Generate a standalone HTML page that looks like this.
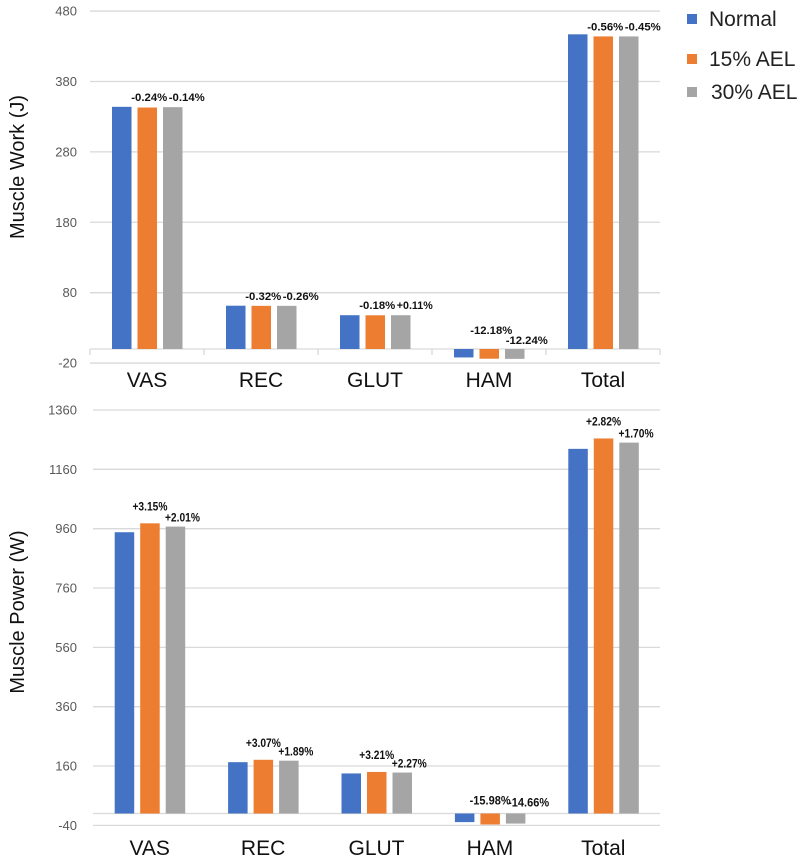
<!DOCTYPE html>
<html><head><meta charset="utf-8"><style>
html,body{margin:0;padding:0;background:#fff;}
svg{display:block;font-family:"Liberation Sans",sans-serif;}
</style></head><body>
<svg id="c" width="800" height="861" viewBox="0 0 800 861">
<g>
 <g><rect x="687" y="14" width="10" height="10" fill="#4472c4"/><text x="709" y="26" font-size="21" fill="#222">Normal</text></g>
 <g><rect x="687" y="54" width="10" height="10" fill="#ed7d31"/><text x="709" y="66" font-size="21" fill="#222">15% AEL</text></g>
 <g><rect x="687" y="87" width="10" height="10" fill="#a5a5a5"/><text x="711" y="99" font-size="21" fill="#222">30% AEL</text></g>
</g>
</svg>
<script>
const categories=["VAS","REC","GLUT","HAM","Total"];
const workNormal=[344,61.5,48,-12,447];
const work15=[343,61.3,47.9,-13.8,444];
const work30=[343.5,61.3,48,-14,444];
const workLabels15=["-0.24%","-0.32%","-0.18%","-12.18%","-0.56%"];
const workLabels30=["-0.14%","-0.26%","+0.11%","-12.24%","-0.45%"];
const workTicks=[-20,80,180,280,380,480];
const powerNormal=[948,173,135,-29,1229];
const power15=[978,181,140,-37,1264];
const power30=[967,178,138,-34,1250];
const powerLabels15=["+3.15%","+3.07%","+3.21%","-15.98%","+2.82%"];
const powerLabels30=["+2.01%","+1.89%","+2.27%","-14.66%","+1.70%"];
const powerTicks=[-40,160,360,560,760,960,1160,1360];
const colors=["#4472c4","#ed7d31","#a5a5a5"];
const NS="http://www.w3.org/2000/svg";
const svg=document.getElementById('c');
function mk(tag,attrs,parent){const e=document.createElementNS(NS,tag);for(const k in attrs)e.setAttribute(k,attrs[k]);(parent||svg).appendChild(e);return e;}

function drawChart(cfg){
  const g=mk('g',{});
  
  
  const y=v=>cfg.zeroY-v*cfg.scale;
  const catW=(cfg.x1-cfg.x0)/categories.length;
  cfg.ticks.forEach(t=>{
    const gl=mk('line',{x1:cfg.x0,x2:cfg.x1,y1:y(t),y2:y(t),stroke:"#d9d9d9","stroke-width":1.3},g);
    
    
    const tl=mk('text',{x:77,y:y(t)+4.5,"text-anchor":"end","font-size":13,fill:"#595959"},g);
    tl.textContent=t;
    
    
  });
  const ax=mk('line',{x1:cfg.x0,x2:cfg.x1,y1:cfg.zeroY,y2:cfg.zeroY,stroke:"#d9d9d9","stroke-width":1.3},g);
  
  
  if(cfg.tickMarks){for(let i=0;i<=categories.length;i++){
    const tm=mk('line',{x1:cfg.x0+i*catW,x2:cfg.x0+i*catW,y1:cfg.zeroY,y2:cfg.zeroY+6,stroke:"#d9d9d9","stroke-width":1.3},g);
    
    
  }}
  const series=[cfg.s0,cfg.s1,cfg.s2];
  categories.forEach((c,i)=>{
    const cx=cfg.x0+i*catW+catW/2;
    const bx=[cx-35,cx-9.5,cx+16];
    series.forEach((s,j)=>{
      const v=s[i];
      const r=mk('rect',{x:bx[j],y:Math.min(y(v),y(0)),width:19.5,height:Math.abs(y(v)-y(0)),fill:colors[j]},g);
      
      
    });
    let ly1,ly2,dx2=cfg.dx[1];
    if(cfg.s1[i]<0){ly1=cfg.zeroY-cfg.negOff[0];ly2=cfg.zeroY-cfg.negOff[1];dx2=cfg.negDx;}
    else if(cfg.stagger){ly1=y(cfg.s1[i])-13;ly2=y(cfg.s2[i])-5;}
    else{const m=Math.min(y(cfg.s1[i]),y(cfg.s2[i]));ly1=m-6;ly2=m-6;}
    const common={"text-anchor":"middle","font-size":cfg.lfs,"font-weight":"bold",fill:"#111",lengthAdjust:"spacingAndGlyphs"};
    const l1=mk('text',Object.assign({x:bx[1]+9.75+cfg.dx[0],y:ly1,textLength:cfg.l1[i].length>6?cfg.lw+6:cfg.lw},common),g);
    l1.textContent=cfg.l1[i];
    
    
    const l2=mk('text',Object.assign({x:bx[2]+9.75+dx2,y:ly2,textLength:cfg.l2[i].length>6?cfg.lw+6:cfg.lw},common),g);
    l2.textContent=cfg.l2[i];
    
    
    const cl=mk('text',{x:cx,y:cfg.catY,"text-anchor":"middle","font-size":21,fill:"#111"},g);
    cl.textContent=c;
    
    
  });
  const at=mk('text',{x:0,y:0,"text-anchor":"middle","font-size":20,fill:"#111",transform:`translate(24,${cfg.titleY}) rotate(-90)`},g);
  at.textContent=cfg.title;
  
  
}
drawChart({name:'work-chart',x0:90,x1:660,zeroY:349,scale:0.704,ticks:workTicks,tickMarks:true,
  s0:workNormal,s1:work15,s2:work30,l1:workLabels15,l2:workLabels30,stagger:false,negOff:[15,5],
  dx:[2,14],negDx:12,lfs:11,lw:36,catY:387,title:'Muscle Work (J)',titleY:167});
drawChart({name:'power-chart',x0:93,x1:660,zeroY:813.5,scale:0.2967,ticks:powerTicks,tickMarks:false,
  s0:powerNormal,s1:power15,s2:power30,l1:powerLabels15,l2:powerLabels30,stagger:true,negOff:[9,7],
  dx:[0,7],negDx:13,lfs:12,lw:35,catY:855,title:'Muscle Power (W)',titleY:612});
</script>
</body></html>
